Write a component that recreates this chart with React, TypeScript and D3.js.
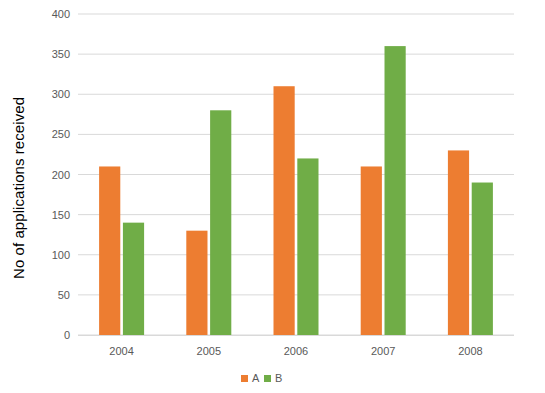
import React, { useEffect, useRef } from "react";
import * as d3 from "d3";

const years = ["2004", "2005", "2006", "2007", "2008"];
const seriesA = [210, 130, 310, 210, 230];
const seriesB = [140, 280, 220, 360, 190];
const seriesNames = ["A", "B"];
const yTicks = [0, 50, 100, 150, 200, 250, 300, 350, 400];

const colors = ["#ED7D31", "#70AD47"];

export default function App() {
  const ref = useRef<SVGSVGElement>(null);

  useEffect(() => {
    const svg = d3.select(ref.current);
    svg.selectAll("*").remove();

    const left = 78, right = 514, top = 14, bottom = 335;
    const font = "'Liberation Sans', Arial, sans-serif";

    const x = d3.scaleBand().domain(years).range([left, right]);
    const inner = d3.scaleBand().domain(seriesNames).range([0, 45]).paddingInner(0.11);
    const y = d3.scaleLinear().domain([0, 400]).range([bottom, top]);

    // GRID
    svg.append("g")
      .selectAll("line")
      .data(yTicks)
      .enter()
      .append("line")
      .attr("x1", left)
      .attr("x2", right)
      .attr("y1", d => y(d))
      .attr("y2", d => y(d))
      .attr("stroke", "#d9d9d9")
      .attr("stroke-width", 1);

    // Y labels
    svg.append("g")
      .selectAll("text")
      .data(yTicks)
      .enter()
      .append("text")
      .attr("x", 70)
      .attr("y", d => y(d) + 4)
      .attr("text-anchor", "end")
      .attr("font-family", font)
      .attr("font-size", "11px")
      .attr("fill", "#595959")
      .text(d => d);

    // BARS
    const rows = years.map((yr, i) => ({ yr, vals: [seriesA[i], seriesB[i]] }));
    const groups = svg.append("g")
      .selectAll("g")
      .data(rows)
      .enter()
      .append("g")
      .attr("transform", d => `translate(${x(d.yr)! + x.bandwidth() / 2 - 22.5},0)`);

    groups.selectAll("rect")
      .data(d => d.vals.map((v, j) => ({ v, s: seriesNames[j], c: colors[j] })))
      .enter()
      .append("rect")
      .attr("x", d => inner(d.s)!)
      .attr("width", inner.bandwidth())
      .attr("y", d => y(d.v))
      .attr("height", d => bottom - y(d.v))
      .attr("fill", d => d.c);

    // X axis line
    svg.append("line")
      .attr("x1", left)
      .attr("x2", right)
      .attr("y1", bottom + 0.5)
      .attr("y2", bottom + 0.5)
      .attr("stroke", "#d9d9d9");

    // X labels
    svg.append("g")
      .selectAll("text")
      .data(years)
      .enter()
      .append("text")
      .attr("x", d => x(d)! + x.bandwidth() / 2)
      .attr("y", 355)
      .attr("text-anchor", "middle")
      .attr("font-family", font)
      .attr("font-size", "11px")
      .attr("fill", "#595959")
      .text(d => d);

    // Axis title
    svg.append("text")
      .attr("transform", "rotate(-90)")
      .attr("x", -188)
      .attr("y", 24)
      .attr("text-anchor", "middle")
      .attr("font-family", font)
      .attr("font-size", "15px")
      .attr("textLength", 182)
      .attr("fill", "#000")
      .text("No of applications received");

    // LEGEND
    const legendX = [241, 264];
    seriesNames.forEach((name, i) => {
      svg.append("rect")
        .attr("x", legendX[i])
        .attr("y", 375)
        .attr("width", 7)
        .attr("height", 7)
        .attr("fill", colors[i]);
      svg.append("text")
        .attr("x", legendX[i] + 11)
        .attr("y", 382)
        .attr("font-family", font)
        .attr("font-size", "11px")
        .attr("fill", "#595959")
        .text(name);
    });
  }, []);

  return (
    <svg
      ref={ref}
      width={545}
      height={393}
      style={{ position: "absolute", left: 0, top: 0, background: "#fff" }}
    />
  );
}
